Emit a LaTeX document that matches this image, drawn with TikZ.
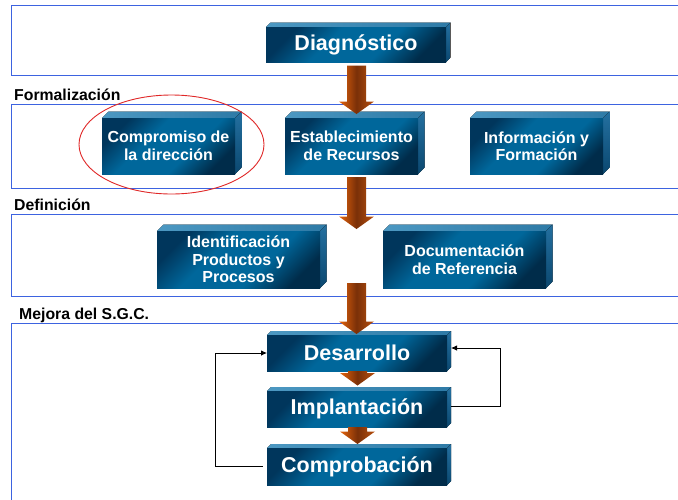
\documentclass[tikz,border=0pt]{standalone}
\usepackage{fontspec}
\setmainfont{Liberation Sans}
\usetikzlibrary{calc,arrows.meta,shapes.geometric}

\definecolor{panelblue}{HTML}{3D63E0}
\definecolor{fdarkA}{HTML}{00365C}
\definecolor{fmid}{HTML}{00679B}
\definecolor{fdarkB}{HTML}{002C4A}
\definecolor{toplight}{HTML}{4C98C2}
\definecolor{topdark}{HTML}{2E7AA6}
\definecolor{sidetop}{HTML}{2470A0}
\definecolor{sidebot}{HTML}{0B4870}
\definecolor{arrO}{HTML}{E5640C}
\definecolor{arrB}{HTML}{7A3008}
\definecolor{arrR}{HTML}{B8500E}
\definecolor{ellred}{HTML}{E02828}

\pgfdeclareverticalshading{faceshade}{100bp}{color(0bp)=(fdarkB); color(25bp)=(fdarkB); color(40bp)=(fmid); color(60bp)=(fmid); color(75bp)=(fdarkA); color(100bp)=(fdarkA)}

\newcommand\bigf{\fontsize{21.5}{24}\selectfont\bfseries}
\newcommand\smallf{\fontsize{16}{17.5}\selectfont\bfseries}

% name, x1, y1, x2, y2, depth, font, text
\newcommand\cuboid[8]{%
  \fill[left color=toplight, right color=topdark] (#2,#3) -- (#2+#6,#3-#6) -- (#4+#6,#3-#6) -- (#4,#3) -- cycle;
  \fill[top color=sidetop, bottom color=sidebot] (#4,#3) -- (#4+#6,#3-#6) -- (#4+#6,#5-#6) -- (#4,#5) -- cycle;
  \node[face, font=#7, minimum width={(#4-#2)*1pt}, minimum height={(#5-#3)*1pt}] (#1) at ({(#2+#4)/2},{(#3+#5)/2}) {#8};
}

% fat arrow between two named coordinates (start, tip)
\newcommand\fatarrow[2]{%
  \shade[arrowshade] let \p1=(#1), \p2=(#2) in
    (\x1-9.5pt,\y1) -- (\x1+9.5pt,\y1) -- (\x1+9.5pt,\y2+12.5pt) -- (\x1+17.5pt,\y2+12.5pt)
    -- (\x1,\y2) -- (\x1-17.5pt,\y2+12.5pt) -- (\x1-9.5pt,\y2+12.5pt) -- cycle;
}

\tikzset{
  face/.style={rectangle, inner sep=0pt, outer sep=0pt, text=white, align=center,
    shade, shading=faceshade, shading angle=45},
  panel/.style={draw=panelblue, line width=0.9pt},
  lbl/.style={font=\fontsize{15.8}{18}\selectfont\bfseries, text=black, inner sep=0pt, anchor=base west},
  arrowshade/.style={left color=arrO, right color=arrR, middle color=arrB},
  loopline/.style={draw=black, line width=0.8pt, -{Latex[length=6pt,width=5.5pt]}},
}

\begin{document}
\begin{tikzpicture}[x=1pt, y=-1pt]
\useasboundingbox (0,0) rectangle (678,499);
\clip (0,0) rectangle (678,499);
\fill[white] (0,0) rectangle (678,499);

% panels
\draw[panel] (11.5,5.5) rectangle (700,75.5);
\draw[panel] (11.5,104) rectangle (700,188);
\draw[panel] (11.5,214) rectangle (700,296.5);
\draw[panel] (11.5,323) rectangle (700,530);

% labels
\node[lbl] (lform) at (14,100.7) {Formalización};
\node[lbl] (ldef) at (14,210.5) {Definición};
\node[lbl] (lmej) at (19,319.3) {Mejora del S.G.C.};

% boxes
\cuboid{diag}{266}{27}{446}{62}{4.5}{\bigf}{Diagnóstico}
\cuboid{compr}{102}{118}{235}{174}{6.5}{\smallf}{Compromiso de\\la dirección}
\cuboid{estab}{285}{118}{418}{174}{6.5}{\smallf}{Establecimiento\\de Recursos}
\cuboid{info}{470}{118}{603}{174}{6.5}{\smallf}{Información y\\Formación}
\cuboid{ident}{157}{231}{320}{288}{6.5}{\smallf}{Identificación\\Productos y\\Procesos}
\cuboid{docu}{383}{231}{546}{288}{6.5}{\smallf}{Documentación\\de Referencia}
\cuboid{desa}{267}{335}{447}{371}{4}{\bigf}{Desarrollo}
\cuboid{impl}{267}{391}{447}{427}{4}{\bigf}{Implantación}
\cuboid{comp}{267}{448}{447}{485}{4}{\bigf}{Comprobación}

% highlight ellipse
\node[draw=ellred, line width=0.9pt, ellipse, inner sep=0pt, minimum width=185pt, minimum height=99pt] (hl) at (171.5,144.5) {};

% fat arrows
\coordinate (a1s) at ($(diag.south)+(0.5,3.7)$);
\coordinate (a1e) at ($(diag.south |- estab.north)+(0.5,-4)$);
\coordinate (a2s) at ($(diag.south |- estab.south)+(0.5,3)$);
\coordinate (a2e) at ($(diag.south |- ident.north)+(0.5,-2)$);
\coordinate (a3s) at ($(diag.south |- ident.south)+(0.5,-5)$);
\coordinate (a3e) at ($(desa.north)+(0.5,-1)$);
\coordinate (a4s) at ($(desa.south)+(0.5,0)$);
\coordinate (a4e) at ($(impl.north)+(0.5,-5.5)$);
\coordinate (a5s) at ($(impl.south)+(0.5,0)$);
\coordinate (a5e) at ($(comp.north)+(0.5,-4)$);
\fatarrow{a1s}{a1e}
\fatarrow{a2s}{a2e}
\fatarrow{a3s}{a3e}
\fatarrow{a4s}{a4e}
\fatarrow{a5s}{a5e}

% feedback loops
\draw[loopline] ($(comp.west)+(-4,0)$) -- ++(-48,0) |- (desa.west);
\draw[loopline] ($(impl.east)+(4,-3)$) -- ++(49,0) |- ($(desa.east)+(4,-5)$);
\end{tikzpicture}
\end{document}
